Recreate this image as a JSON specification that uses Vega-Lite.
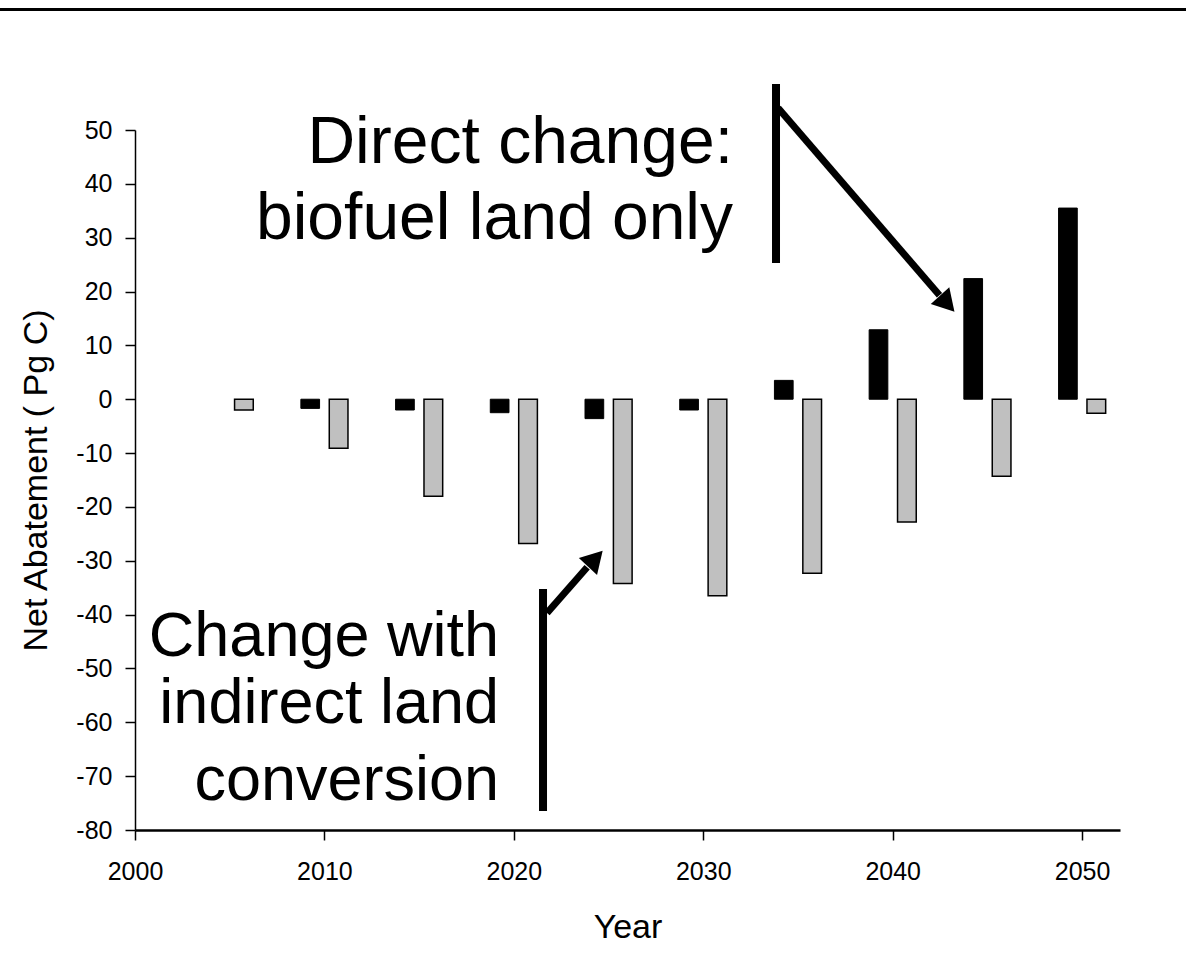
{
  "$schema": "https://vega.github.io/schema/vega-lite/v6.json",
  "width": 985,
  "height": 700,
  "autosize": {"type": "none"},
  "padding": {"left": 135, "top": 130, "right": 66, "bottom": 134},
  "background": "white",
  "config": {
    "view": {"stroke": null},
    "font": "Liberation Sans",
    "axis": {"labelFont": "Liberation Sans", "titleFont": "Liberation Sans", "labelColor": "black", "titleColor": "black", "tickColor": "black", "domainColor": "black", "grid": false, "titleFontWeight": "normal", "labelFlush": false, "labelOverlap": false}
  },
  "datasets": {
    "bars": [
      {"year": 2005, "series": "Indirect", "value": -2.0},
      {"year": 2010, "series": "Direct", "value": -1.7},
      {"year": 2010, "series": "Indirect", "value": -9.1},
      {"year": 2015, "series": "Direct", "value": -2.0},
      {"year": 2015, "series": "Indirect", "value": -18.0},
      {"year": 2020, "series": "Direct", "value": -2.5},
      {"year": 2020, "series": "Indirect", "value": -26.8},
      {"year": 2025, "series": "Direct", "value": -3.6},
      {"year": 2025, "series": "Indirect", "value": -34.2},
      {"year": 2030, "series": "Direct", "value": -2.0},
      {"year": 2030, "series": "Indirect", "value": -36.5},
      {"year": 2035, "series": "Direct", "value": 3.5},
      {"year": 2035, "series": "Indirect", "value": -32.3},
      {"year": 2040, "series": "Direct", "value": 12.9},
      {"year": 2040, "series": "Indirect", "value": -22.8},
      {"year": 2045, "series": "Direct", "value": 22.4},
      {"year": 2045, "series": "Indirect", "value": -14.3},
      {"year": 2050, "series": "Direct", "value": 35.5},
      {"year": 2050, "series": "Indirect", "value": -2.6}
    ],
    "vlines": [
      {"x": 2033.84, "y": 58.54, "x2": 2033.84, "y2": 25.29},
      {"x": 2021.54, "y": -35.25, "x2": 2021.54, "y2": -76.48}
    ],
    "dlines": [
      {"x": 2033.95, "y": 54.08, "x2": 2042.47, "y2": 19.31},
      {"x": 2021.75, "y": -39.71, "x2": 2023.87, "y2": -31.2}
    ],
    "topline": [
      {"x": 1992.5, "x2": 2056, "y": 72.4}
    ],
    "labelsUp": [
      {"x": 2031.57, "y": 43.87, "text": "Direct change:"},
      {"x": 2031.57, "y": 29.75, "text": "biofuel land only"}
    ],
    "labelsDown": [
      {"x": 2019.22, "y": -47.7, "text": "Change with"},
      {"x": 2019.22, "y": -60.2, "text": "indirect land"},
      {"x": 2019.22, "y": -74.4, "text": "conversion"}
    ]
  },
  "layer": [
    {
      "data": {"name": "bars"},
      "transform": [{"filter": "datum.series === 'Direct'"}],
      "mark": {"type": "bar", "width": 18.7, "xOffset": -14.2, "fill": "black", "stroke": "black", "strokeWidth": 1},
      "encoding": {
        "x": {"field": "year", "type": "quantitative", "scale": {"domain": [2000, 2052], "nice": false, "zero": false, "padding": 0},
          "axis": {"values": [2000, 2010, 2020, 2030, 2040, 2050], "labelExpr": "'' + datum.value", "labelFontSize": 25, "tickSize": 10, "tickWidth": 1.5, "domainWidth": 2.5, "labelPadding": 19, "title": "Year", "titleFontSize": 34, "titlePadding": 26}},
        "y": {"field": "value", "type": "quantitative", "scale": {"domain": [-80, 50], "nice": false, "padding": 0},
          "axis": {"values": [-80, -70, -60, -50, -40, -30, -20, -10, 0, 10, 20, 30, 40, 50], "labelExpr": "'' + datum.value", "labelFontSize": 25, "tickSize": 10, "tickWidth": 1.5, "domainWidth": 1.5, "labelPadding": 13, "title": "Net Abatement ( Pg C)", "titleFontSize": 34, "titlePadding": 22}},
        "y2": {"datum": 0}
      }
    },
    {
      "data": {"name": "bars"},
      "transform": [{"filter": "datum.series === 'Indirect'"}],
      "mark": {"type": "bar", "width": 18.7, "xOffset": 14.2, "fill": "#c0c0c0", "stroke": "black", "strokeWidth": 1.5},
      "encoding": {
        "x": {"field": "year", "type": "quantitative"},
        "y": {"field": "value", "type": "quantitative"},
        "y2": {"datum": 0}
      }
    },
    {
      "mark": {"type": "rule", "color": "black", "strokeWidth": 2},
      "encoding": {"y": {"datum": 0}}
    },
    {
      "data": {"name": "topline"},
      "mark": {"type": "rule", "color": "black", "strokeWidth": 3},
      "encoding": {
        "x": {"field": "x", "type": "quantitative"},
        "x2": {"field": "x2"},
        "y": {"field": "y", "type": "quantitative"}
      }
    },
    {
      "data": {"name": "vlines"},
      "mark": {"type": "rule", "color": "black", "strokeWidth": 8, "strokeCap": "butt"},
      "encoding": {
        "x": {"field": "x", "type": "quantitative"},
        "x2": {"field": "x2"},
        "y": {"field": "y", "type": "quantitative"},
        "y2": {"field": "y2"}
      }
    },
    {
      "data": {"name": "dlines"},
      "mark": {"type": "rule", "color": "black", "strokeWidth": 7, "strokeCap": "butt"},
      "encoding": {
        "x": {"field": "x", "type": "quantitative"},
        "x2": {"field": "x2"},
        "y": {"field": "y", "type": "quantitative"},
        "y2": {"field": "y2"}
      }
    },
    {
      "data": {"values": [{"x": 2042.88, "y": 17.74}]},
      "mark": {"type": "point", "shape": "triangle-up", "filled": true, "size": 620, "color": "black", "opacity": 1, "angle": 138},
      "encoding": {
        "x": {"field": "x", "type": "quantitative"},
        "y": {"field": "y", "type": "quantitative"}
      }
    },
    {
      "data": {"values": [{"x": 2024.30, "y": -29.60}]},
      "mark": {"type": "point", "shape": "triangle-up", "filled": true, "size": 620, "color": "black", "opacity": 1, "angle": 43},
      "encoding": {
        "x": {"field": "x", "type": "quantitative"},
        "y": {"field": "y", "type": "quantitative"}
      }
    },
    {
      "data": {"name": "labelsUp"},
      "mark": {"type": "text", "align": "right", "baseline": "alphabetic", "fontSize": 66, "font": "Liberation Sans", "color": "black"},
      "encoding": {
        "x": {"field": "x", "type": "quantitative"},
        "y": {"field": "y", "type": "quantitative"},
        "text": {"field": "text"}
      }
    },
    {
      "data": {"name": "labelsDown"},
      "mark": {"type": "text", "align": "right", "baseline": "alphabetic", "fontSize": 63, "font": "Liberation Sans", "color": "black"},
      "encoding": {
        "x": {"field": "x", "type": "quantitative"},
        "y": {"field": "y", "type": "quantitative"},
        "text": {"field": "text"}
      }
    }
  ]
}
